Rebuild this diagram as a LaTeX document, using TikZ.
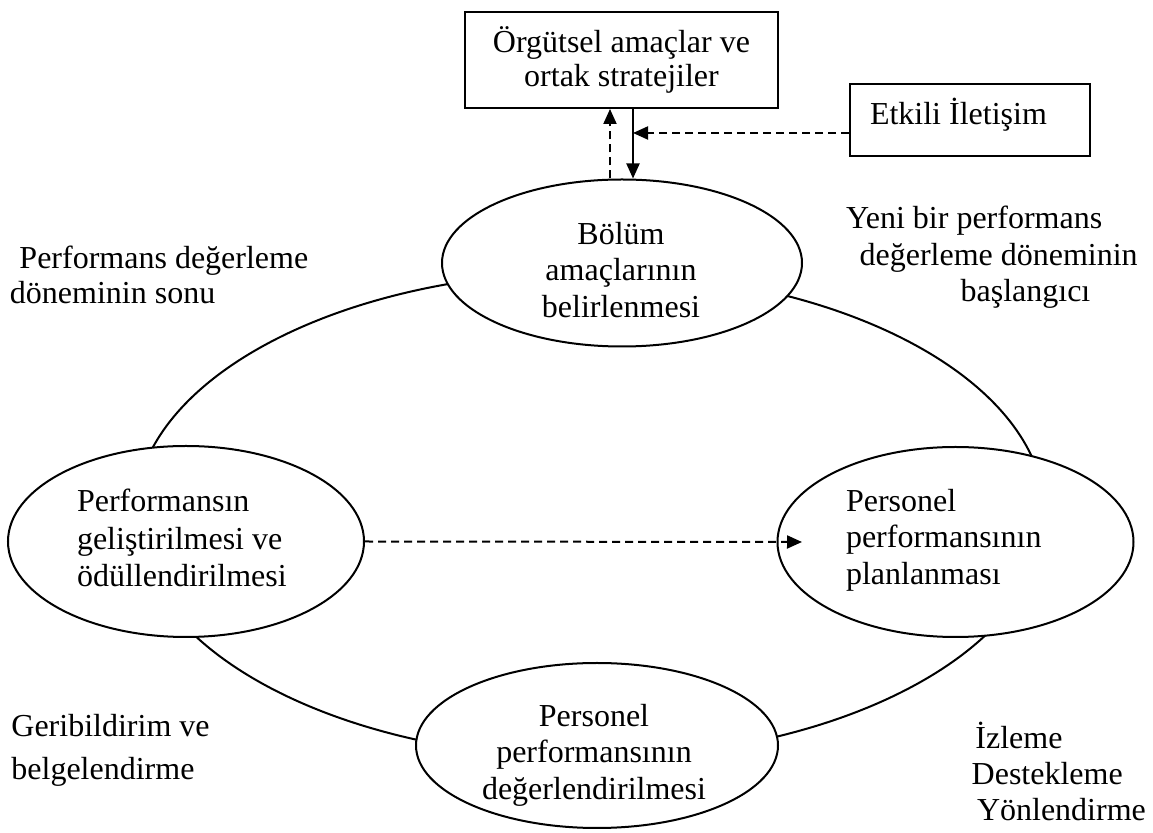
\documentclass[tikz,border=0pt]{standalone}
\usepackage{fontspec}
\setmainfont{Liberation Serif}
\usetikzlibrary{arrows.meta,shapes.geometric}
\newcommand{\mystrut}{\vrule height 11pt depth 5pt width 0pt}
\newcommand{\boxstrut}{\vrule height 13pt depth 3pt width 0pt}
\begin{document}
\begin{tikzpicture}[x=0.5pt,y=-0.5pt,
  line width=1pt,
  oval/.style={draw, ellipse, fill=white, inner sep=0pt},
  txt/.style={inner sep=0pt, font=\fontsize{16pt}{18.25pt}\selectfont},
  boxnode/.style={draw, fill=white, inner sep=0pt},
  dsh/.style={dash pattern=on 4pt off 2.5pt},
  tip/.style={-{Triangle[length=7.5pt,width=6.5pt]}}
]
\useasboundingbox (0,0) rectangle (1153,833);

% cycle ring
\node[draw, ellipse, inner sep=0pt, minimum width=455pt, minimum height=243pt] (ring) at (590,515) {};

% stage ellipses
\node[oval, minimum width=180pt, minimum height=83.5pt] (top) at (622,263) {};
\node[oval, minimum width=178pt, minimum height=95.5pt] (left) at (186,541.5) {};
\node[oval, minimum width=178pt, minimum height=95pt] (right) at (955.5,542) {};
\node[oval, minimum width=181pt, minimum height=82.5pt] (bottom) at (597,745.5) {};

% texts of the ellipses
\node[txt, align=center, anchor=north] (topt) at (621,221)
  {\mystrut Bölüm\\\mystrut amaçlarının\\\mystrut belirlenmesi};
\node[txt, align=left, anchor=north west, font=\fontsize{16pt}{18.75pt}\selectfont] (leftt) at (76,488)
  {\mystrut Performansın\\\mystrut geliştirilmesi ve\\\mystrut ödüllendirilmesi};
\node[txt, align=left, anchor=north west] (rightt) at (845,488)
  {\mystrut Personel\\\mystrut performansının\\\mystrut planlanması};
\node[txt, align=center, anchor=north] (bottomt) at (594,703)
  {\mystrut Personel\\\mystrut performansının\\\mystrut değerlendirilmesi};

% boxes
\node[boxnode, minimum width=156.5pt, minimum height=48pt, align=center,
      font=\fontsize{16pt}{17pt}\selectfont] (box1) at (621.5,60)
  {\boxstrut Örgütsel amaçlar ve\\\boxstrut ortak stratejiler};
\node[boxnode, inner xsep=10pt, text height=10pt, text depth=5pt,
      minimum height=36pt, font=\fontsize{16pt}{18pt}\selectfont] (etk) at (970,120)
  {\makebox[100pt][l]{Etkili İletişim}};

% free labels
\node[txt, align=left, anchor=north west, font=\fontsize{16pt}{17.5pt}\selectfont] (lbl1) at (9,245)
  {\mystrut\hspace*{4.75pt}Performans değerleme\\\mystrut döneminin sonu};
\node[txt, align=left, anchor=north west] (lbl2) at (845,205)
  {\mystrut Yeni bir performans\\\mystrut\hspace*{6.8pt}değerleme döneminin\\\mystrut\hspace*{57.3pt}başlangıcı};
\node[txt, align=left, anchor=north west, font=\fontsize{16pt}{21.5pt}\selectfont] (lbl3) at (10.4,713)
  {\mystrut Geribildirim ve\\\mystrut belgelendirme};
\node[txt, align=left, anchor=north west, font=\fontsize{16pt}{18pt}\selectfont] (lbl4) at (970.7,721)
  {\mystrut\hspace*{1.85pt}İzleme\\\mystrut Destekleme\\\mystrut\hspace*{2.65pt}Yönlendirme};

% connectors
\coordinate (xu) at (610,0);
\coordinate (xd) at (633,0);
\coordinate (ye) at (0,133);
\coordinate (hend) at (802,542);
\draw[dsh,tip] (top.north -| xu) -- (box1.south -| xu);
\draw[tip] (box1.south -| xd) -- (top.north -| xd);
\draw[dsh,tip] (etk.west |- ye) -- (xd |- ye);
\draw[dsh,tip] (left.east) -- (hend);
\end{tikzpicture}
\end{document}
